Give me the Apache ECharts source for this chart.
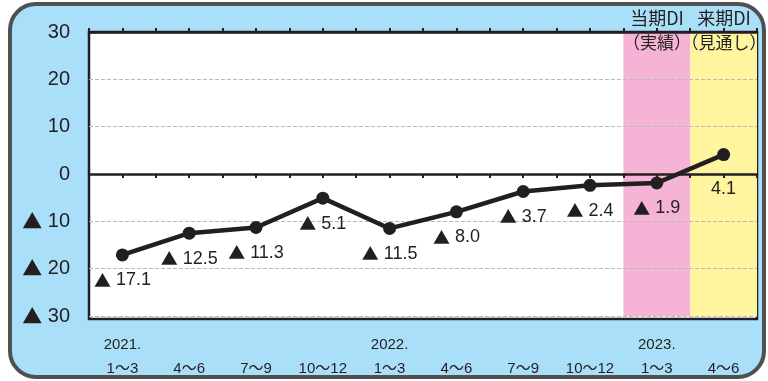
<!DOCTYPE html>
<html><head><meta charset="utf-8">
<script src="https://cdn.jsdelivr.net/npm/echarts@6/dist/echarts.min.js"></script>
<style>html,body{margin:0;padding:0;background:#fff}#c{width:768px;height:381px}</style>
</head><body><div id="c"></div>
<script>
const years = ['2021.', '', '', '', '2022.', '', '', '', '2023.', ''];
const periods = ['1～3', '4～6', '7～9', '10～12', '1～3', '4～6', '7～9', '10～12', '1～3', '4～6'];
const diValues = [-17.1, -12.5, -11.3, -5.1, -11.5, -8.0, -3.7, -2.4, -1.9, 4.1];
const yTicks = [-30, -20, -10, 0, 10, 20, 30];
const headers = [['当期DI', '（実績）'], ['来期DI', '（見通し）']];

const ink = '#231f20';
const cjk = '"Noto Sans CJK JP", sans-serif';
const latin = 'Arial, "Liberation Sans", "Noto Sans CJK JP", sans-serif';
const rich = (v, dec) => v < 0 ? '{t|▲} ' + (dec ? Math.abs(v).toFixed(1) : Math.abs(v)) : (dec ? v.toFixed(1) : String(v));
const cats = periods.map((p, i) => years[i] + '\n' + p);

const W = 768, H = 381, G = { left: 89, right: 11, top: 32, bottom: 62 };

const hdr = (x, y, text, size) => ({ type: 'text', z: 100, x: x, y: y,
  style: { text: text, fill: ink, fontSize: size, fontFamily: cjk, align: 'center', verticalAlign: 'middle' } });

const chart = echarts.init(document.getElementById('c'));
chart.setOption({
  backgroundColor: '#fff',
  animation: false,
  textStyle: { fontFamily: latin },
  graphic: [
    { type: 'rect', z: -100, shape: { x: 10, y: 4, width: 754, height: 373, r: 26 },
      style: { fill: '#aadff9', stroke: '#505050', lineWidth: 4 } },
    { type: 'rect', z: -90, shape: { x: G.left, y: G.top, width: W - G.left - G.right, height: H - G.top - G.bottom },
      style: { fill: '#fff', stroke: ink, lineWidth: 2.5 } },
    hdr(657, 18, headers[0][0], 18),
    hdr(724, 18, headers[1][0], 18),
    hdr(657, 43, headers[0][1], 17),
    hdr(724, 43, headers[1][1], 17)
  ],
  grid: { left: G.left, right: G.right, top: G.top, bottom: G.bottom, show: false },
  xAxis: [
    { type: 'category', data: cats, boundaryGap: true, position: 'bottom',
      axisLine: { show: false, onZero: false }, axisTick: { show: false },
      axisLabel: { color: ink, fontSize: 15, lineHeight: 24, margin: 17, interval: 0 } },
    { type: 'value', min: 0, max: 20, interval: 1, position: 'bottom',
      axisLine: { onZero: true, lineStyle: { color: ink, width: 2.5 } },
      axisTick: { show: true, length: 4, lineStyle: { color: ink, width: 2 } },
      axisLabel: { show: false }, splitLine: { show: false } },
    { type: 'value', min: 0, max: 20, interval: 1, position: 'top',
      axisLine: { onZero: true, lineStyle: { color: ink, width: 2.5 } },
      axisTick: { show: true, length: 4, lineStyle: { color: ink, width: 2 } },
      axisLabel: { show: false }, splitLine: { show: false } }
  ],
  yAxis: {
    type: 'value', min: yTicks[0], max: yTicks[yTicks.length - 1], interval: 10,
    axisLine: { show: false }, axisTick: { show: false },
    axisLabel: { color: ink, fontSize: 20, margin: 19, formatter: v => rich(v, false),
      rich: { t: { fontFamily: cjk, fontSize: 20, color: ink } } },
    splitLine: { lineStyle: { color: '#b8b8b8', type: 'dashed', width: 1 } }
  },
  series: [
    { type: 'line', xAxisIndex: 1, data: [], silent: true, z: -1,
      markArea: { silent: true, z: -1, data: [
        [{ xAxis: 16, itemStyle: { color: '#f5b4d6' } }, { xAxis: 18 }],
        [{ xAxis: 18, itemStyle: { color: '#fff49f' } }, { xAxis: 20 }]
      ] } },
    { type: 'line', xAxisIndex: 0, z: 10,
      data: diValues.map(v => ({ value: v, label: { distance: v > 0 ? 19 : 10 } })),
      symbol: 'circle', symbolSize: 13,
      lineStyle: { color: ink, width: 4.5 }, itemStyle: { color: ink },
      label: { show: true, position: 'bottom', color: ink, fontSize: 18, formatter: p => rich(p.value, true),
        rich: { t: { fontFamily: cjk, fontSize: 17, color: ink } } } }
  ]
});
</script></body></html>
